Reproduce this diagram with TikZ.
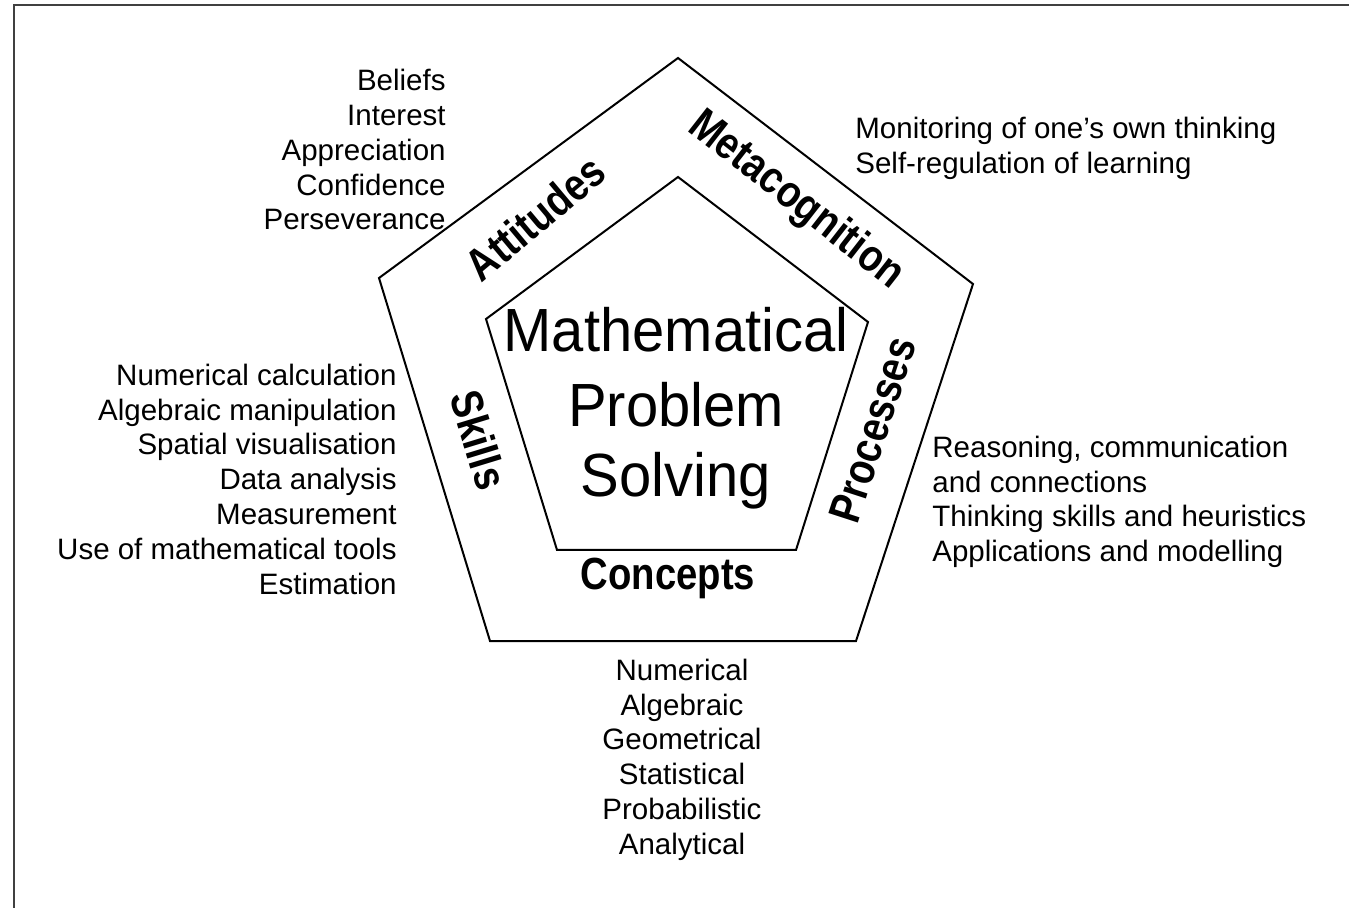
\documentclass[tikz,border=0pt]{standalone}
\usepackage{fontspec}
\setmainfont{Liberation Sans}
\newfontfamily\facetfont[FakeStretch=0.85]{Liberation Sans Bold}
\newfontfamily\corefont[FakeStretch=0.95]{Liberation Sans}

\begin{document}
\begin{tikzpicture}[x=0.5pt,y=-0.5pt,
		pentaline/.style={line width=1pt, line join=miter},
		sidelist/.style={font=\fontsize{14.75}{17.4}\selectfont, inner sep=0pt},
		facet/.style={font=\facetfont\fontsize{22.5}{27}\selectfont, inner sep=0pt},
		core/.style={font=\corefont\fontsize{30.5}{36}\selectfont, inner sep=0pt, anchor=base}]
		
		\useasboundingbox (0,0) rectangle (1349,908);
		\draw[line width=1pt, black!75] (14,908) -- (14,5) -- (1349,5);
		
		\draw[pentaline] (678,58) -- (973,284) -- (856,641) -- (490,641) -- (379,278) -- cycle;
		\draw[pentaline] (678,177) -- (868,322) -- (796,550) -- (557,550) -- (486,319) -- cycle;
		
		\node[core] (math) at (676,352) {Mathematical};
		\node[core] (prob) at (676,427) {Problem};
		\node[core] (solv) at (676,497) {Solving};
		
		\node[facet, rotate=40] (att) at (535,218) {Attitudes};
		\node[facet, rotate=-38] (meta) at (796,201) {Metacognition};
		\node[facet, rotate=72] (proc) at (873,430) {Processes};
		\node[facet, rotate=-73] (skil) at (479,440) {Skills};
		\node[facet] (conc) at (668,578) {Concepts};
		
		\node[sidelist, anchor=north east, align=right] (attlist) at (446,69)
			{Beliefs\\Interest\\Appreciation\\Confidence\\Perseverance};
		\node[sidelist, anchor=north west, align=left] (metalist) at (855,116.5)
			{Monitoring of one’s own thinking\\Self-regulation of learning};
		\node[sidelist, anchor=north east, align=right] (skillist) at (397,363.5)
			{Numerical calculation\\Algebraic manipulation\\Spatial visualisation\\Data analysis\\Measurement\\Use of mathematical tools\\Estimation};
		\node[sidelist, anchor=north west, align=left] (proclist) at (932,435.5)
			{Reasoning, communication\\and connections\\Thinking skills and heuristics\\Applications and modelling};
		\node[sidelist, anchor=north, align=center] (conclist) at (682,658.5)
			{Numerical\\Algebraic\\Geometrical\\Statistical\\Probabilistic\\Analytical};
		
	\end{tikzpicture}
\end{document}
